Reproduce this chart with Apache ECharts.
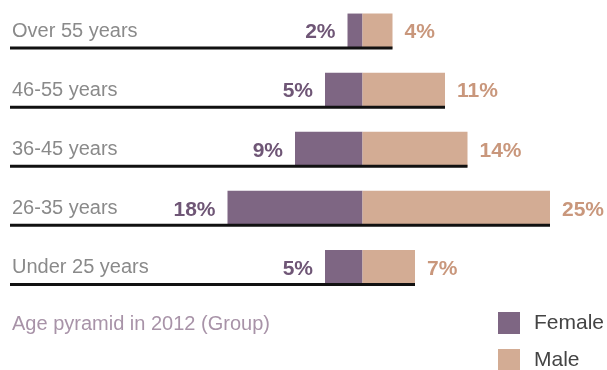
<!DOCTYPE html>
<html>
<head>
<meta charset="utf-8">
<script src="https://cdn.jsdelivr.net/npm/echarts@6/dist/echarts.min.js"></script>
<style>
  html, body { margin: 0; padding: 0; background: #fff; }
  #chart { width: 607px; height: 370px; }
</style>
</head>
<body>
<div id="chart"></div>
<script>
// age groups, top to bottom
var categories = ['Over 55 years', '46-55 years', '36-45 years', '26-35 years', 'Under 25 years'];
// share of staff in %
var female = [2, 5, 9, 18, 5];
var male = [4, 11, 14, 25, 7];
var legendNames = ['Female', 'Male'];
var subtitle = 'Age pyramid in 2012 (Group)';

var xMin = -47, xMax = 32;
var FONT = '"Liberation Sans", Arial, sans-serif';

var myChart = echarts.init(document.getElementById('chart'));

// one legend box per entry, the second one runs off the bottom edge
var legendBase = {
  orient: 'vertical',
  left: 498,
  padding: 0,
  itemWidth: 22,
  itemHeight: 22,
  icon: 'rect',
  textStyle: { color: '#444', fontSize: 21, fontFamily: FONT, padding: [0, 0, 0, 9] }
};

var option = {
  animation: false,
  title: {
    text: subtitle,
    left: 12,
    top: 314,
    padding: 0,
    textStyle: { color: '#a893a8', fontSize: 20, fontWeight: 'normal', fontFamily: FONT }
  },
  legend: [
    echarts.util.merge({ data: [legendNames[0]], top: 312 }, legendBase),
    echarts.util.merge({ data: [legendNames[1]], top: 349 }, legendBase)
  ],
  grid: { left: 10, top: 1.5, width: 592.5, height: 295.5 },
  xAxis: {
    type: 'value',
    min: xMin,
    max: xMax,
    show: false
  },
  yAxis: {
    type: 'category',
    inverse: true,
    data: categories,
    axisLine: { show: false, onZero: false },
    axisTick: { show: false },
    splitLine: { show: false },
    axisLabel: {
      inside: true,
      margin: 2,
      align: 'left',
      padding: [2, 0, 0, 0],
      color: '#8a8a8a',
      fontSize: 20,
      fontFamily: FONT
    }
  },
  series: [{
    name: 'Female',
    type: 'bar',
    barWidth: 35,
    barGap: '-100%',
    data: female.map(function (v) { return -v; }),
    itemStyle: { color: '#7e6683' },
    label: {
      show: true,
      position: 'left',
      distance: 12,
      offset: [0, 1.5],
      color: '#6f5676',
      fontSize: 21,
      fontWeight: 'bold',
      fontFamily: FONT,
      formatter: function (p) { return Math.abs(p.value) + '%'; }
    }
  }, {
    name: 'Male',
    type: 'bar',
    barWidth: 35,
    data: male,
    itemStyle: { color: '#d3ac94' },
    label: {
      show: true,
      position: 'right',
      distance: 12,
      offset: [0, 1.5],
      color: '#c9977c',
      fontSize: 21,
      fontWeight: 'bold',
      fontFamily: FONT,
      formatter: '{c}%'
    }
  }, {
    // black underline from the left edge to the end of the male bar
    type: 'custom',
    z: 5,
    silent: true,
    data: male.map(function (v, i) { return [v, i]; }),
    renderItem: function (params, api) {
      var i = api.value(1);
      var start = api.coord([xMin, i]);
      var end = api.coord([api.value(0), i]);
      var y = start[1] + 17;
      return {
        type: 'line',
        shape: { x1: start[0], y1: y, x2: end[0], y2: y },
        style: { stroke: '#111', lineWidth: 3 }
      };
    }
  }]
};
myChart.setOption(option);
</script>
</body>
</html>
